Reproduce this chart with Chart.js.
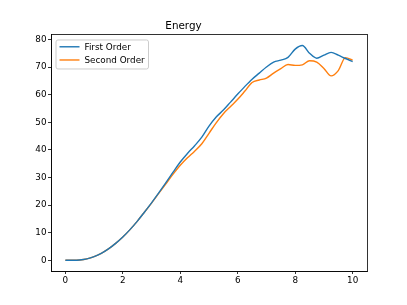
<!DOCTYPE html>
<html>
<head>
<meta charset="utf-8">
<script src="https://cdn.jsdelivr.net/npm/chart.js@4/dist/chart.umd.min.js"></script>
<style>
html,body{margin:0;padding:0;background:#fff;}
canvas{display:block;}
</style>
</head>
<body>
<canvas id="c" width="407" height="305"></canvas>
<script>
const times = [0,0.25,0.5,0.75,1,1.25,1.5,1.75,2,2.25,2.5,2.75,3,3.25,3.5,3.75,4,4.25,4.5,4.75,5,5.25,5.5,5.75,6,6.25,6.5,6.75,7,7.25,7.5,7.75,8,8.25,8.5,8.75,9,9.25,9.5,9.75,10];
const firstOrder = [0,0,0.1,0.5,1.3,2.5,4.1,6.1,8.4,11.1,14.1,17.4,20.8,24.4,28.1,31.9,35.6,38.7,41.5,44.6,48.6,51.9,54.4,57.3,60.2,63.0,65.6,67.8,70.0,71.8,72.5,73.5,76.5,77.8,75.0,73.2,74.3,75.3,74.3,73.1,72.0];
const secondOrder = [0,0,0.1,0.5,1.3,2.5,4.1,6.1,8.4,11.1,14.1,17.4,20.7,24.2,27.7,31.2,34.4,37.1,39.5,42.2,46.0,49.8,53.1,55.7,58.3,61.3,64.4,65.3,66.0,67.8,69.4,70.9,70.6,70.8,72.3,71.8,69.5,66.8,68.7,73.4,72.5];
const seriesLabels = ["First Order","Second Order"];
const seriesColors = ["#1f77b4","#ff7f0e"];
const xTicks = [0,2,4,6,8,10];
const yTicks = [0,10,20,30,40,50,60,70,80];
const chartTitle = "Energy";

const FONT = "'DejaVu Sans', sans-serif";

const framePlugin = {
  id: 'frame',
  afterDraw(chart) {
    const {ctx, chartArea: a} = chart;
    ctx.save();
    ctx.strokeStyle = '#000';
    ctx.lineWidth = 0.8;
    ctx.strokeRect(Math.round(a.left)+0.5, Math.round(a.top)+0.5, Math.round(a.right - a.left), Math.round(a.bottom - a.top));
    // legend
    const bx = a.left + 4.5, by = a.top + 5, bw = 92.5, bh = 29;
    ctx.fillStyle = 'rgba(255,255,255,0.8)';
    ctx.strokeStyle = '#cccccc';
    ctx.lineWidth = 1;
    ctx.beginPath();
    if (ctx.roundRect) ctx.roundRect(bx+0.5, by+0.5, bw, bh, 2); else ctx.rect(bx+0.5, by+0.5, bw, bh);
    ctx.fill();
    ctx.stroke();
    ctx.font = "8.8px " + FONT;
    ctx.textBaseline = 'middle';
    chart.data.datasets.forEach((ds, i) => {
      const y = by + 7.3 + i * 13.2;
      ctx.strokeStyle = ds.borderColor;
      ctx.lineWidth = 1.4;
      ctx.beginPath();
      ctx.moveTo(bx + 4, y);
      ctx.lineTo(bx + 24, y);
      ctx.stroke();
      ctx.fillStyle = '#000';
      ctx.fillText(ds.label, bx + 29, y + 0.5);
    });
    ctx.restore();
  }
};

const datasets = [firstOrder, secondOrder].map((vals, i) => ({
  label: seriesLabels[i],
  data: times.map((t, k) => ({x: t, y: vals[k]})),
  borderColor: seriesColors[i],
  backgroundColor: seriesColors[i],
  borderWidth: 1.4,
  pointRadius: 0,
  cubicInterpolationMode: 'monotone',
  fill: false
}));

new Chart(document.getElementById('c'), {
  type: 'line',
  data: {datasets},
  options: {
    responsive: false,
    animation: false,
    devicePixelRatio: 1,
    layout: {padding: {left: 0, right: 40, top: 0, bottom: 0}},
    plugins: {
      legend: {display: false},
      tooltip: {enabled: false},
      title: {
        display: true,
        text: chartTitle,
        color: '#000',
        font: {family: FONT, size: 10.4, weight: 'normal', lineHeight: 1.2},
        padding: {top: 20, bottom: 2}
      }
    },
    scales: {
      x: {
        type: 'linear',
        min: -0.5,
        max: 10.5,
        afterBuildTicks: s => { s.ticks = xTicks.map(v => ({value: v})); },
        afterFit: s => { s.height = 34; },
        grid: {display: true, drawOnChartArea: false, drawTicks: true, tickLength: 3, color: '#000', lineWidth: 0.8},
        border: {display: true, color: '#000', width: 0.8},
        ticks: {color: '#000', font: {family: FONT, size: 8.8}, padding: 1.5, maxRotation: 0, autoSkip: false}
      },
      y: {
        type: 'linear',
        min: -3.9,
        max: 81.8,
        afterBuildTicks: s => { s.ticks = yTicks.map(v => ({value: v})); },
        afterFit: s => { s.width = 51; },
        grid: {display: true, drawOnChartArea: false, drawTicks: true, tickLength: 3, color: '#000', lineWidth: 0.8},
        border: {display: true, color: '#000', width: 0.8},
        ticks: {color: '#000', font: {family: FONT, size: 8.8}, padding: 1.5, autoSkip: false}
      }
    }
  },
  plugins: [framePlugin]
});
</script>
</body>
</html>
